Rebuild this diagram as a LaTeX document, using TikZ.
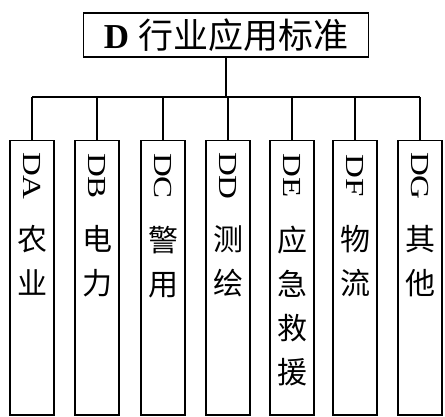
\documentclass[tikz,border=0pt]{standalone}
\usepackage{fontspec}
\setmainfont{Liberation Serif}
\newfontfamily\cjk{Noto Sans CJK SC}
\begin{document}
\begin{tikzpicture}[x=1pt,y=1pt,line width=1.5pt,
  colbox/.style={draw, minimum width=44pt, minimum height=274pt, anchor=north, inner sep=0pt},
  lat/.style={font=\fontsize{26}{26}\selectfont, inner sep=0pt},
  han/.style={font=\cjk\fontsize{30}{44}\selectfont, inner sep=0pt, align=center, anchor=north}]
\useasboundingbox (0,0) rectangle (445,-417);
\node[draw, minimum width=285pt, minimum height=44pt, inner sep=0pt, font=\fontsize{35}{35}\selectfont] (top) at (226,-35) {\textbf{D} {\cjk 行业应用标准}};
\coordinate (bus) at (227,-97);
\node[colbox] (DA) at (32,-140) {};
\node[colbox] (DB) at (97,-140) {};
\node[colbox] (DC) at (163,-140) {};
\node[colbox] (DD) at (228,-140) {};
\node[colbox] (DE) at (292,-140) {};
\node[colbox] (DF) at (355,-140) {};
\node[colbox] (DG) at (420,-140) {};
\node[lat] (tA) at (32,-176) {\rotatebox{-90}{\scalebox{1.27}[1]{DA}}};
\node[lat] (tB) at (97,-176) {\rotatebox{-90}{\scalebox{1.27}[1]{DB}}};
\node[lat] (tC) at (163,-176) {\rotatebox{-90}{\scalebox{1.27}[1]{DC}}};
\node[lat] (tD) at (228,-176) {\rotatebox{-90}{\scalebox{1.27}[1]{DD}}};
\node[lat] (tE) at (292,-176) {\rotatebox{-90}{\scalebox{1.27}[1]{DE}}};
\node[lat] (tF) at (355,-176) {\rotatebox{-90}{\scalebox{1.27}[1]{DF}}};
\node[lat] (tG) at (420,-176) {\rotatebox{-90}{\scalebox{1.27}[1]{DG}}};
\node[han] (hA) at (32,-225) {农\\业};
\node[han] (hB) at (97,-225) {电\\力};
\node[han] (hC) at (163,-225) {警\\用};
\node[han] (hD) at (228,-225) {测\\绘};
\node[han] (hE) at (292,-225) {应\\急\\救\\援};
\node[han] (hF) at (355,-225) {物\\流};
\node[han] (hG) at (420,-225) {其\\他};
\draw (top.south) -- (top.south |- bus);
\draw (DA.north |- bus) -- (DG.north |- bus);
\foreach \b in {DA,DB,DC,DD,DE,DF,DG}{
  \draw (\b.north) -- (\b.north |- bus);
}
\end{tikzpicture}
\end{document}
